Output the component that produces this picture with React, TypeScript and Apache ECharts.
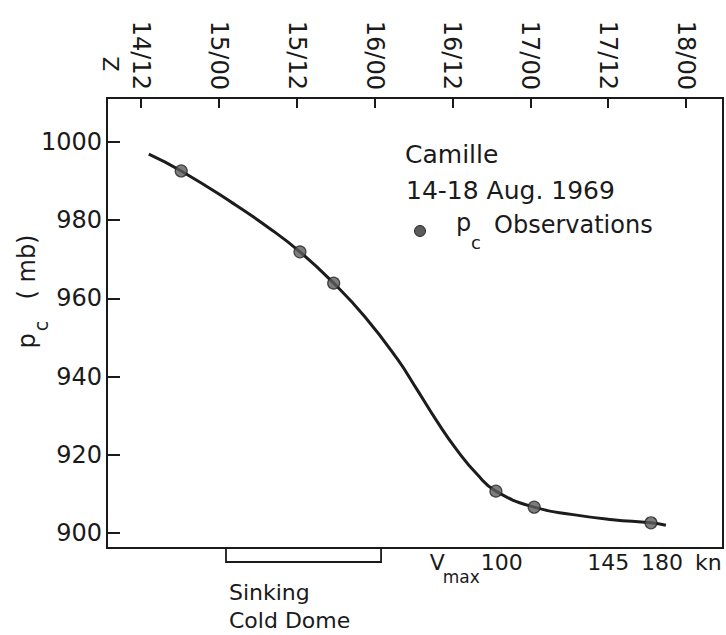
import React, { useEffect, useRef } from "react";
import * as echarts from "echarts";

// Time axis (hours after 14 Aug 00Z) and its tick labels (day/hour Z)
const timeTickHours = [12, 24, 36, 48, 60, 72, 84, 96];
const timeTickLabels = ["14/12", "15/00", "15/12", "16/00", "16/12", "17/00", "17/12", "18/00"];
const pressureTicks = [900, 920, 940, 960, 980, 1000];

// Analysed central-pressure curve
const curveHours = [13.2, 18.2, 26.2, 31.4, 36.5, 41.7, 46.5, 51.5, 54.5, 57.6, 60.7, 63.8, 66.7, 72.6, 78.6, 84.7, 90.6, 92.9];
const curvePressure = [996.9, 992.6, 984.3, 978.4, 971.9, 963.9, 955.3, 944.5, 936.8, 928.6, 921.2, 915.0, 910.7, 906.6, 904.7, 903.4, 902.6, 902.0];

// pc observations
const obsHours = [18.2, 36.5, 41.7, 66.7, 72.6, 90.6];
const obsPressure = [992.6, 971.9, 963.9, 910.7, 906.6, 902.6];

// Vmax annotations below the axis
const vmaxHours = [67.6, 84.0, 92.3];
const vmaxLabels = ["100", "145", "180"];
// Sinking cold dome period (hours)
const coldDomeHours = [25.1, 49.0];

const FONT = "DejaVu Sans";
const INK = "#1a1a1a";

export default function App() {
  const ref = useRef<HTMLDivElement>(null);

  useEffect(() => {
    if (!ref.current) return;
    const chart = echarts.init(ref.current, undefined, { renderer: "svg" });
    const yMin = 896.16;
    const yMax = 1011.25;
    chart.setOption({
      animation: false,
      backgroundColor: "#ffffff",
      textStyle: { fontFamily: FONT, color: INK },
      grid: {
        left: 107,
        right: 3,
        top: 98,
        bottom: 87,
        show: true,
        borderColor: INK,
        borderWidth: 2,
        backgroundColor: "transparent",
      },
      xAxis: {
        type: "value",
        position: "top",
        min: 6.76,
        max: 101.7,
        axisLine: { show: false },
        splitLine: { show: false },
        axisTick: {
          show: true,
          inside: true,
          length: 10,
          customValues: timeTickHours,
          lineStyle: { color: INK, width: 2 },
        },
        axisLabel: {
          customValues: timeTickHours,
          rotate: 90,
          margin: 8,
          fontSize: 24,
          fontFamily: FONT,
          color: INK,
          formatter: (v: number) => {
            const i = timeTickHours.indexOf(Math.round(v));
            return i >= 0 ? timeTickLabels[i] : "";
          },
        },
      },
      yAxis: {
        type: "value",
        min: yMin,
        max: yMax,
        axisLine: { show: false },
        splitLine: { show: false },
        axisTick: {
          show: true,
          inside: true,
          length: 13,
          customValues: pressureTicks,
          lineStyle: { color: INK, width: 2 },
        },
        axisLabel: {
          customValues: pressureTicks,
          margin: 5,
          fontSize: 24,
          fontFamily: FONT,
          color: INK,
          formatter: (v: number) => String(Math.round(v)),
        },
      },
      series: [
        {
          type: "line",
          data: curveHours.map((h, i) => [h, curvePressure[i]]),
          smooth: 0.5,
          showSymbol: false,
          lineStyle: { color: "#1c1c1c", width: 3 },
          z: 2,
        },
        {
          type: "scatter",
          data: obsHours.map((h, i) => [h, obsPressure[i]]),
          symbolSize: 12,
          itemStyle: { color: "#5c5c5c", borderColor: "#222", borderWidth: 1.2 },
          z: 3,
        },
      ],
    });

    const toPx = (h: number, p: number) =>
      chart.convertToPixel({ xAxisIndex: 0, yAxisIndex: 0 }, [h, p]) as number[];
    const yBottom = toPx(50, yMin)[1];
    const x1 = toPx(coldDomeHours[0], yMin)[0];
    const x2 = toPx(coldDomeHours[1], yMin)[0];
    const vx = vmaxHours.map((h) => toPx(h, yMin)[0]);
    const labelY = yBottom + 14;

    const txt = (text: string, x: number, y: number, fontSize: number, align = "left", rotation = 0) => ({
      type: "text",
      x,
      y,
      rotation,
      style: {
        text,
        fontSize,
        fontFamily: FONT,
        fill: INK,
        textAlign: align,
        textVerticalAlign: "middle",
      },
    });

    chart.setOption({
      graphic: [
        // time zone marker
        txt("Z", 111, 64, 22, "center", Math.PI / 2),
        // y axis name: p_c ( mb)
        txt("p", 27, 341, 24, "center", Math.PI / 2),
        txt("c", 41, 326, 19, "center", Math.PI / 2),
        txt("( mb)", 27, 267, 24, "center", Math.PI / 2),
        // legend block
        txt("Camille", 405, 154, 25),
        txt("14-18 Aug. 1969", 406, 190, 25),
        {
          type: "circle",
          shape: { cx: 420, cy: 231, r: 5.5 },
          style: { fill: "#5c5c5c", stroke: "#222", lineWidth: 1 },
        },
        txt("p", 456, 223, 24),
        txt("c", 471, 242, 18),
        txt("Observations", 494, 225, 24),
        // sinking cold dome bracket
        {
          type: "polyline",
          shape: {
            points: [
              [x1, yBottom],
              [x1, yBottom + 14],
              [x2, yBottom + 14],
              [x2, yBottom],
            ],
          },
          style: { stroke: INK, lineWidth: 1.8, fill: null },
        },
        txt("Sinking", 229, 592, 22),
        txt("Cold Dome", 229, 620, 22),
        // Vmax scale
        txt("V", vx[0] - 57, labelY, 22, "right"),
        txt("max", vx[0] - 22, labelY + 15, 17, "right"),
        ...vmaxLabels.map((s, i) => txt(s, vx[i], labelY, 22, "center")),
        txt("kn", vx[2] + 33, labelY, 22, "left"),
      ],
    });

    return () => chart.dispose();
  }, []);

  return (
    <div
      ref={ref}
      style={{ position: "fixed", left: 0, top: 0, width: 726, height: 635, background: "#fff" }}
    />
  );
}
